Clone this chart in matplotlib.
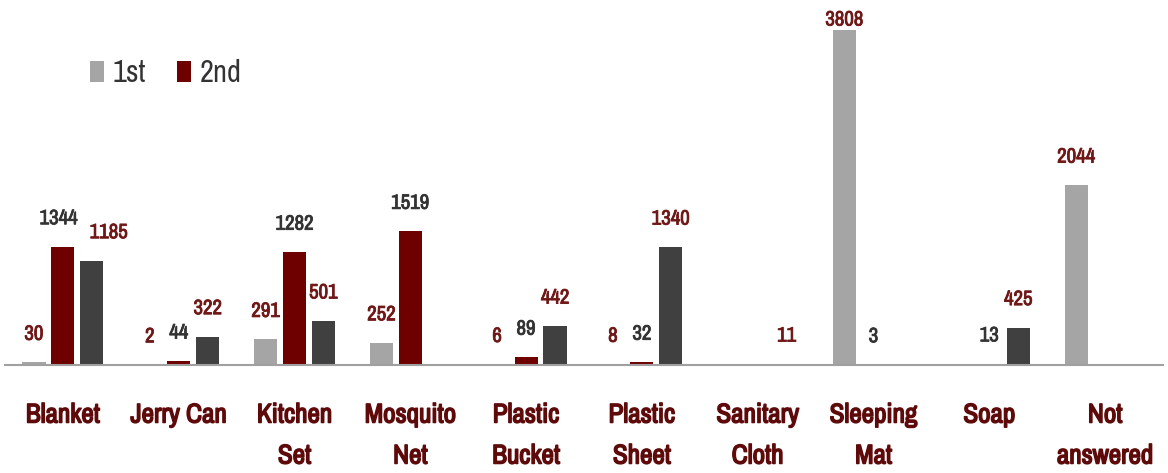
import numpy as np
import matplotlib
matplotlib.use("Agg")
import matplotlib.pyplot as plt
import matplotlib.patheffects as pe

categories = ["Blanket", "Jerry Can", "Kitchen\nSet", "Mosquito\nNet", "Plastic\nBucket",
              "Plastic\nSheet", "Sanitary\nCloth", "Sleeping\nMat", "Soap", "Not\nanswered"]
first = [30, 2, 291, 252, 6, 8, np.nan, 3808, np.nan, 2044]
second = [1344, 44, 1282, 1519, 89, 32, np.nan, 3, 13, np.nan]
third = [1185, 322, 501, np.nan, 442, 1340, 11, np.nan, 425, np.nan]

series_names = ["1st", "2nd", None]
bar_colors = ["#A5A5A5", "#6E0000", "#404040"]
label_colors = ["#701818", "#333333", "#701818"]

FONT = ["Archivo Narrow", "DejaVu Sans"]
CAT_COLOR = "#5E0A0A"


def heavy(color, lw):
    # thicken the narrow face with a stroke of its own colour
    return [pe.withStroke(linewidth=lw, foreground=color)]


fig = plt.figure(figsize=(11.68, 4.73), dpi=100)
W, H = 1168, 473
base_px = 365
top_px = 13
ax = fig.add_axes([5 / W, (H - base_px) / H, 1158 / W, (base_px - top_px) / H])

ymax = 4000
x = np.arange(len(categories))
step = 0.25
width = 0.2
px_per_unit = (base_px - top_px) / ymax
label_gap = 28 / px_per_unit
label_cap = (base_px - 20) / px_per_unit

group_labels = {g: [] for g in range(len(categories))}
for i, (vals, name, bc, lc) in enumerate(zip([first, second, third], series_names,
                                              bar_colors, label_colors)):
    xs = x + (i - 1) * step
    vals = np.array(vals, dtype=float)
    ax.bar(xs, vals, width, color=bc, label=name if name else "_nolegend_")
    for g, (xi, v) in enumerate(zip(xs, vals)):
        if np.isnan(v):
            continue
        t = ax.text(xi, min(v + label_gap, label_cap), f"{int(v)}", ha="center",
                    va="center", fontsize=15, color=lc, family=FONT,
                    path_effects=heavy(lc, 0.6))
        group_labels[g].append(t)

ax.set_xlim(-0.5, len(categories) - 0.5)
ax.set_ylim(0, ymax)
ax.set_xticks(x)
ax.set_xticklabels(categories, fontsize=19.5, color=CAT_COLOR,
                   family=FONT, linespacing=1.8)
for t in ax.get_xticklabels():
    t.set_path_effects(heavy(CAT_COLOR, 1.1))
ax.tick_params(axis="x", length=0, pad=27)
ax.set_yticks([])
for s in ["top", "right", "left"]:
    ax.spines[s].set_visible(False)
ax.spines["bottom"].set_color("#A0A0A0")
ax.spines["bottom"].set_linewidth(1.5)

leg = ax.legend(loc="center left", bbox_to_anchor=(90 / W, 1 - 73 / H),
                bbox_transform=fig.transFigure, ncol=2, frameon=False,
                prop={"family": FONT, "size": 22}, handlelength=0.45, handleheight=0.7,
                handletextpad=0.3, columnspacing=1.0, borderpad=0, borderaxespad=0)
for t in leg.get_texts():
    t.set_color("#333333")

# spread neighbouring value labels apart where they collide
fig.canvas.draw()
renderer = fig.canvas.get_renderer()
for texts in group_labels.values():
    for a, b in zip(texts, texts[1:]):
        ea, eb = a.get_window_extent(renderer), b.get_window_extent(renderer)
        overlap_x = ea.x1 - eb.x0
        overlap_y = min(ea.y1, eb.y1) - max(ea.y0, eb.y0)
        if overlap_x > 0 and overlap_y > 0:
            shift = (overlap_x + 12) / 2 / (ax.bbox.width / 10)
            ax_x, ay = a.get_position()
            bx, by = b.get_position()
            a.set_position((ax_x - shift * 0.4, ay))
            b.set_position((bx + shift * 1.6, by))

fig.savefig("out.png", dpi=100)
